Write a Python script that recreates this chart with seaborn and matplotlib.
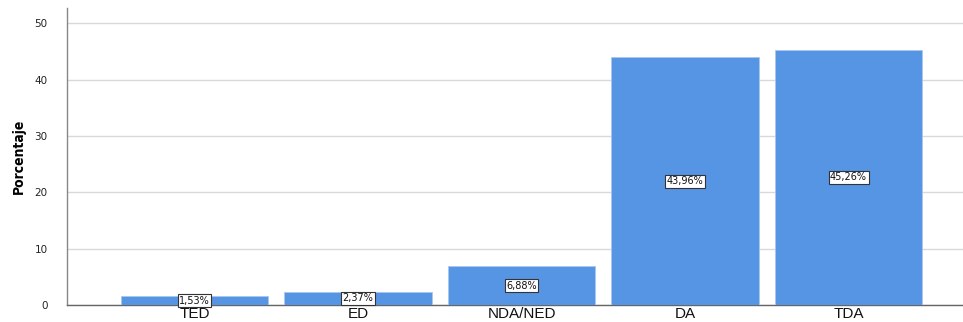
import matplotlib
matplotlib.use("Agg")
import matplotlib.pyplot as plt
import seaborn as sns
import pandas as pd

categories = ["TED", "ED", "NDA/NED", "DA", "TDA"]
percentages = [1.53, 2.37, 6.88, 43.96, 45.26]
y_ticks = [0, 10, 20, 30, 40, 50]

sns.set_theme(style="white")
plt.rcParams["font.family"] = ["Liberation Sans", "DejaVu Sans"]

df = pd.DataFrame({"cat": categories, "pct": percentages})

fig = plt.figure(figsize=(9.63, 3.22), dpi=100)
ax = fig.add_axes([0.0696, 0.0528, 0.9304, 0.9222])

sns.barplot(data=df, x="cat", y="pct", color="#5595E4", saturation=1,
            width=0.9, ax=ax, zorder=3)
for p in ax.patches:
    p.set_edgecolor("#A9C7EE")
    p.set_linewidth(0.6)

ax.set_xlim(-0.78, 4.70)
ax.set_ylim(0, 52.7)
ax.set_yticks(y_ticks)
ax.set_yticklabels([str(v) for v in y_ticks], fontsize=7.5, color="#222222",
                   fontfamily="DejaVu Sans")
ax.tick_params(axis="x", labelsize=11, length=0, pad=1.5, colors="#111111")
ax.tick_params(axis="y", length=0, pad=14)
ax.grid(axis="y", color="#D9D9D9", linewidth=1, zorder=0)
ax.set_xlabel("")
ax.set_ylabel("Porcentaje", fontsize=10, fontweight="bold", color="black",
              fontfamily="DejaVu Sans", fontstretch="condensed", labelpad=6)

for s in ["top", "right"]:
    ax.spines[s].set_visible(False)
ax.spines["left"].set_color("#888888")
ax.spines["left"].set_bounds(0, 52.7)
ax.spines["bottom"].set_color("#666666")
ax.spines["left"].set_linewidth(1)
ax.spines["bottom"].set_linewidth(1)

for i, v in enumerate(percentages):
    ax.text(i, v / 2, f"{v:.2f}%".replace(".", ","), ha="center", va="center",
            fontsize=7, color="#111111", zorder=5, fontfamily="DejaVu Sans",
            bbox=dict(boxstyle="square,pad=0.15", facecolor="white",
                      edgecolor="#333333", linewidth=0.8))

fig.savefig("out.png", dpi=100)
